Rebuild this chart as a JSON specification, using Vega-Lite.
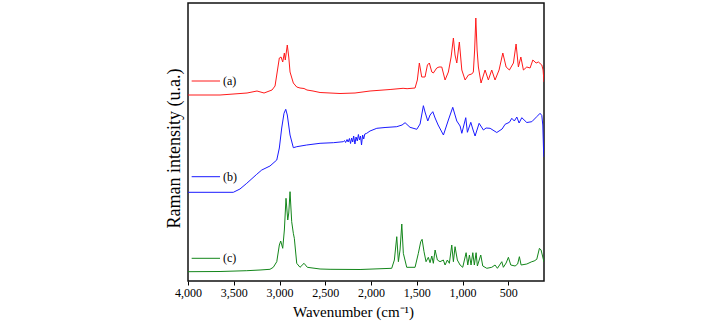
{
  "$schema": "https://vega.github.io/schema/vega-lite/v6.json",
  "width": 356,
  "height": 278,
  "autosize": {"type": "none"},
  "padding": {"left": 188, "top": 3, "right": 162, "bottom": 47},
  "background": "white",
  "config": {
    "view": {"stroke": "#111", "strokeWidth": 1.5},
    "font": "Liberation Serif"
  },
  "datasets": {
    "spectra": [
      {"s":"a","wn":4000,"I":186},{"s":"a","wn":3650,"I":186},{"s":"a","wn":3355,"I":188},{"s":"a","wn":3246,"I":190},{"s":"a","wn":3169,"I":188},{"s":"a","wn":3082,"I":191},{"s":"a","wn":3049,"I":195},{"s":"a","wn":3027,"I":208},{"s":"a","wn":3002,"I":223},{"s":"a","wn":2983,"I":224},{"s":"a","wn":2965,"I":219},{"s":"a","wn":2947,"I":228},{"s":"a","wn":2937,"I":221},{"s":"a","wn":2915,"I":236},{"s":"a","wn":2899,"I":224},{"s":"a","wn":2885,"I":209},{"s":"a","wn":2849,"I":198},{"s":"a","wn":2812,"I":194},{"s":"a","wn":2776,"I":193},{"s":"a","wn":2732,"I":192.5},{"s":"a","wn":2700,"I":191},{"s":"a","wn":2634,"I":190},{"s":"a","wn":2557,"I":188.5},{"s":"a","wn":2339,"I":187.5},{"s":"a","wn":2175,"I":188},{"s":"a","wn":2011,"I":190},{"s":"a","wn":1792,"I":191.5},{"s":"a","wn":1650,"I":192.7},{"s":"a","wn":1606,"I":192.3},{"s":"a","wn":1519,"I":193},{"s":"a","wn":1494,"I":201},{"s":"a","wn":1472,"I":218},{"s":"a","wn":1446,"I":204},{"s":"a","wn":1410,"I":204},{"s":"a","wn":1384,"I":216},{"s":"a","wn":1363,"I":218},{"s":"a","wn":1336,"I":209},{"s":"a","wn":1319,"I":208},{"s":"a","wn":1282,"I":213},{"s":"a","wn":1257,"I":214},{"s":"a","wn":1227,"I":214},{"s":"a","wn":1191,"I":201},{"s":"a","wn":1155,"I":209},{"s":"a","wn":1125,"I":224},{"s":"a","wn":1100,"I":243},{"s":"a","wn":1082,"I":226},{"s":"a","wn":1063,"I":218},{"s":"a","wn":1035,"I":239},{"s":"a","wn":1008,"I":211},{"s":"a","wn":972,"I":201},{"s":"a","wn":936,"I":206},{"s":"a","wn":899,"I":207},{"s":"a","wn":882,"I":209},{"s":"a","wn":868,"I":231},{"s":"a","wn":855,"I":263},{"s":"a","wn":841,"I":231},{"s":"a","wn":827,"I":214},{"s":"a","wn":798,"I":198},{"s":"a","wn":754,"I":211},{"s":"a","wn":718,"I":201},{"s":"a","wn":681,"I":211},{"s":"a","wn":645,"I":201},{"s":"a","wn":601,"I":211},{"s":"a","wn":560,"I":228},{"s":"a","wn":524,"I":214},{"s":"a","wn":488,"I":211},{"s":"a","wn":444,"I":218},{"s":"a","wn":415,"I":237},{"s":"a","wn":390,"I":214},{"s":"a","wn":363,"I":224},{"s":"a","wn":335,"I":211},{"s":"a","wn":298,"I":214},{"s":"a","wn":262,"I":213},{"s":"a","wn":232,"I":221},{"s":"a","wn":196,"I":218},{"s":"a","wn":171,"I":219},{"s":"a","wn":134,"I":216},{"s":"a","wn":120,"I":211},{"s":"a","wn":110,"I":199},
      {"s":"b","wn":4000,"I":88.7},{"s":"b","wn":3505,"I":88.7},{"s":"b","wn":3432,"I":92},{"s":"b","wn":3358,"I":97.7},{"s":"b","wn":3249,"I":106.7},{"s":"b","wn":3194,"I":111},{"s":"b","wn":3104,"I":115},{"s":"b","wn":3030,"I":121},{"s":"b","wn":3002,"I":133},{"s":"b","wn":2976,"I":153},{"s":"b","wn":2951,"I":167.7},{"s":"b","wn":2932,"I":171.7},{"s":"b","wn":2915,"I":166},{"s":"b","wn":2885,"I":146},{"s":"b","wn":2849,"I":133.3},{"s":"b","wn":2812,"I":134.3},{"s":"b","wn":2703,"I":136},{"s":"b","wn":2557,"I":137.7},{"s":"b","wn":2412,"I":138.3},{"s":"b","wn":2303,"I":139.3},{"s":"b","wn":2290,"I":140.5},{"s":"b","wn":2278,"I":138.5},{"s":"b","wn":2262,"I":141.5},{"s":"b","wn":2250,"I":139},{"s":"b","wn":2236,"I":142.5},{"s":"b","wn":2224,"I":137.5},{"s":"b","wn":2212,"I":143},{"s":"b","wn":2200,"I":139},{"s":"b","wn":2190,"I":145},{"s":"b","wn":2176,"I":137},{"s":"b","wn":2164,"I":144},{"s":"b","wn":2150,"I":140},{"s":"b","wn":2138,"I":146.5},{"s":"b","wn":2126,"I":141},{"s":"b","wn":2115,"I":145},{"s":"b","wn":2104,"I":136},{"s":"b","wn":2092,"I":146},{"s":"b","wn":2080,"I":142},{"s":"b","wn":2068,"I":147},{"s":"b","wn":2047,"I":147.7},{"s":"b","wn":2011,"I":150},{"s":"b","wn":1937,"I":152.7},{"s":"b","wn":1847,"I":153.5},{"s":"b","wn":1719,"I":154.3},{"s":"b","wn":1661,"I":156},{"s":"b","wn":1628,"I":158.3},{"s":"b","wn":1574,"I":153.7},{"s":"b","wn":1500,"I":151.7},{"s":"b","wn":1464,"I":157},{"s":"b","wn":1428,"I":175.3},{"s":"b","wn":1410,"I":169},{"s":"b","wn":1380,"I":160},{"s":"b","wn":1355,"I":166},{"s":"b","wn":1325,"I":169.3},{"s":"b","wn":1300,"I":163},{"s":"b","wn":1267,"I":156},{"s":"b","wn":1209,"I":146},{"s":"b","wn":1155,"I":161},{"s":"b","wn":1107,"I":173.7},{"s":"b","wn":1063,"I":160},{"s":"b","wn":1027,"I":155},{"s":"b","wn":1008,"I":147.7},{"s":"b","wn":965,"I":163.3},{"s":"b","wn":947,"I":148.7},{"s":"b","wn":910,"I":158.7},{"s":"b","wn":885,"I":151},{"s":"b","wn":863,"I":145},{"s":"b","wn":819,"I":157.7},{"s":"b","wn":772,"I":151},{"s":"b","wn":743,"I":153},{"s":"b","wn":699,"I":152.7},{"s":"b","wn":626,"I":148.5},{"s":"b","wn":568,"I":152},{"s":"b","wn":535,"I":156.7},{"s":"b","wn":488,"I":158.7},{"s":"b","wn":462,"I":162.7},{"s":"b","wn":434,"I":160},{"s":"b","wn":407,"I":164},{"s":"b","wn":382,"I":158},{"s":"b","wn":353,"I":163.3},{"s":"b","wn":298,"I":158.5},{"s":"b","wn":243,"I":159.3},{"s":"b","wn":189,"I":164.3},{"s":"b","wn":153,"I":167.7},{"s":"b","wn":134,"I":165.5},{"s":"b","wn":123,"I":156},{"s":"b","wn":115,"I":131},{"s":"b","wn":110,"I":124},
      {"s":"c","wn":4000,"I":9.3},{"s":"c","wn":3650,"I":9.5},{"s":"c","wn":3358,"I":10.3},{"s":"c","wn":3213,"I":11},{"s":"c","wn":3104,"I":11.7},{"s":"c","wn":3068,"I":13.7},{"s":"c","wn":3030,"I":19.3},{"s":"c","wn":3002,"I":36},{"s":"c","wn":2987,"I":40},{"s":"c","wn":2965,"I":32.7},{"s":"c","wn":2947,"I":51},{"s":"c","wn":2929,"I":82.7},{"s":"c","wn":2910,"I":61},{"s":"c","wn":2899,"I":68},{"s":"c","wn":2885,"I":89.3},{"s":"c","wn":2867,"I":59.3},{"s":"c","wn":2849,"I":47.7},{"s":"c","wn":2838,"I":42.7},{"s":"c","wn":2812,"I":17.7},{"s":"c","wn":2776,"I":13.7},{"s":"c","wn":2732,"I":17.7},{"s":"c","wn":2696,"I":13.7},{"s":"c","wn":2557,"I":12},{"s":"c","wn":2448,"I":11.7},{"s":"c","wn":2120,"I":11.5},{"s":"c","wn":1774,"I":12.7},{"s":"c","wn":1745,"I":21},{"s":"c","wn":1719,"I":44.3},{"s":"c","wn":1701,"I":19.3},{"s":"c","wn":1683,"I":31},{"s":"c","wn":1664,"I":57},{"s":"c","wn":1647,"I":27.7},{"s":"c","wn":1610,"I":13.7},{"s":"c","wn":1519,"I":13.7},{"s":"c","wn":1483,"I":27.7},{"s":"c","wn":1457,"I":39.3},{"s":"c","wn":1442,"I":41.7},{"s":"c","wn":1421,"I":29.3},{"s":"c","wn":1399,"I":19.3},{"s":"c","wn":1374,"I":23.7},{"s":"c","wn":1355,"I":18.3},{"s":"c","wn":1336,"I":25},{"s":"c","wn":1319,"I":17.7},{"s":"c","wn":1300,"I":31},{"s":"c","wn":1275,"I":21},{"s":"c","wn":1246,"I":19.3},{"s":"c","wn":1210,"I":21},{"s":"c","wn":1191,"I":16},{"s":"c","wn":1166,"I":21},{"s":"c","wn":1144,"I":17.7},{"s":"c","wn":1118,"I":36},{"s":"c","wn":1100,"I":19.3},{"s":"c","wn":1082,"I":34.3},{"s":"c","wn":1057,"I":21},{"s":"c","wn":1027,"I":16},{"s":"c","wn":998,"I":13.7},{"s":"c","wn":961,"I":28.3},{"s":"c","wn":943,"I":16},{"s":"c","wn":925,"I":26},{"s":"c","wn":907,"I":16},{"s":"c","wn":888,"I":28.3},{"s":"c","wn":871,"I":16},{"s":"c","wn":852,"I":28.3},{"s":"c","wn":838,"I":15},{"s":"c","wn":801,"I":26},{"s":"c","wn":779,"I":15},{"s":"c","wn":735,"I":12.7},{"s":"c","wn":681,"I":13.7},{"s":"c","wn":645,"I":16},{"s":"c","wn":619,"I":12.7},{"s":"c","wn":571,"I":19.3},{"s":"c","wn":554,"I":13.7},{"s":"c","wn":524,"I":18},{"s":"c","wn":499,"I":23.7},{"s":"c","wn":473,"I":16},{"s":"c","wn":426,"I":15},{"s":"c","wn":398,"I":17},{"s":"c","wn":379,"I":24.3},{"s":"c","wn":360,"I":16},{"s":"c","wn":298,"I":17},{"s":"c","wn":243,"I":19.3},{"s":"c","wn":218,"I":20},{"s":"c","wn":189,"I":21.7},{"s":"c","wn":160,"I":32.7},{"s":"c","wn":142,"I":31},{"s":"c","wn":117,"I":21.7},{"s":"c","wn":110,"I":19}
    ],
    "labels": [
      {"s":"a","name":"(a)","from":3960,"to":3650,"I":200},
      {"s":"b","name":"(b)","from":3960,"to":3650,"I":104.3},
      {"s":"c","name":"(c)","from":3960,"to":3650,"I":22.7}
    ]
  },
  "layer": [
    {
      "data": {"name": "spectra"},
      "mark": {"type": "line", "strokeWidth": 1, "clip": true},
      "encoding": {
        "x": {
          "field": "wn", "type": "quantitative",
          "scale": {"domain": [4000, 110], "nice": false, "zero": false},
          "axis": {
            "title": "Wavenumber (cm⁻¹)",
            "values": [4000,3750,3500,3250,3000,2750,2500,2250,2000,1750,1500,1250,1000,750,500,250],
            "labelExpr": "datum.value % 500 === 0 ? format(datum.value, ',') : ''",
            "labelFlush": false, "labelOverlap": false,
            "grid": false, "domain": false,
            "tickColor": "#000", "tickSize": 4, "tickWidth": 1,
            "labelFont": "Liberation Serif", "labelFontSize": 12, "labelColor": "#000", "labelPadding": 2,
            "titleFont": "Liberation Serif", "titleFontSize": 15, "titleFontWeight": "normal", "titleColor": "#000",
            "titlePadding": 6, "titleX": 165
          }
        },
        "y": {
          "field": "I", "type": "quantitative",
          "scale": {"domain": [0, 278], "nice": false, "zero": false},
          "axis": {
            "title": "Raman intensity (u.a.)",
            "ticks": false, "labels": false, "domain": false, "grid": false,
            "titleFont": "Liberation Serif", "titleFontSize": 18, "titleFontWeight": "normal", "titleColor": "#000",
            "titlePadding": 5, "titleY": 145
          }
        },
        "color": {
          "field": "s", "type": "nominal",
          "scale": {"domain": ["a","b","c"], "range": ["#ff1a1a","#1a1aff","#13861a"]},
          "legend": null
        }
      }
    },
    {
      "data": {"name": "labels"},
      "mark": {"type": "rule", "strokeWidth": 1},
      "encoding": {
        "x": {"field": "from", "type": "quantitative"},
        "x2": {"field": "to"},
        "y": {"field": "I", "type": "quantitative"},
        "color": {"field": "s", "type": "nominal", "legend": null}
      }
    },
    {
      "data": {"name": "labels"},
      "mark": {"type": "text", "align": "left", "baseline": "middle", "dx": 3, "font": "Liberation Serif", "fontSize": 12, "color": "#000"},
      "encoding": {
        "x": {"field": "to", "type": "quantitative"},
        "y": {"field": "I", "type": "quantitative"},
        "text": {"field": "name"}
      }
    }
  ]
}
